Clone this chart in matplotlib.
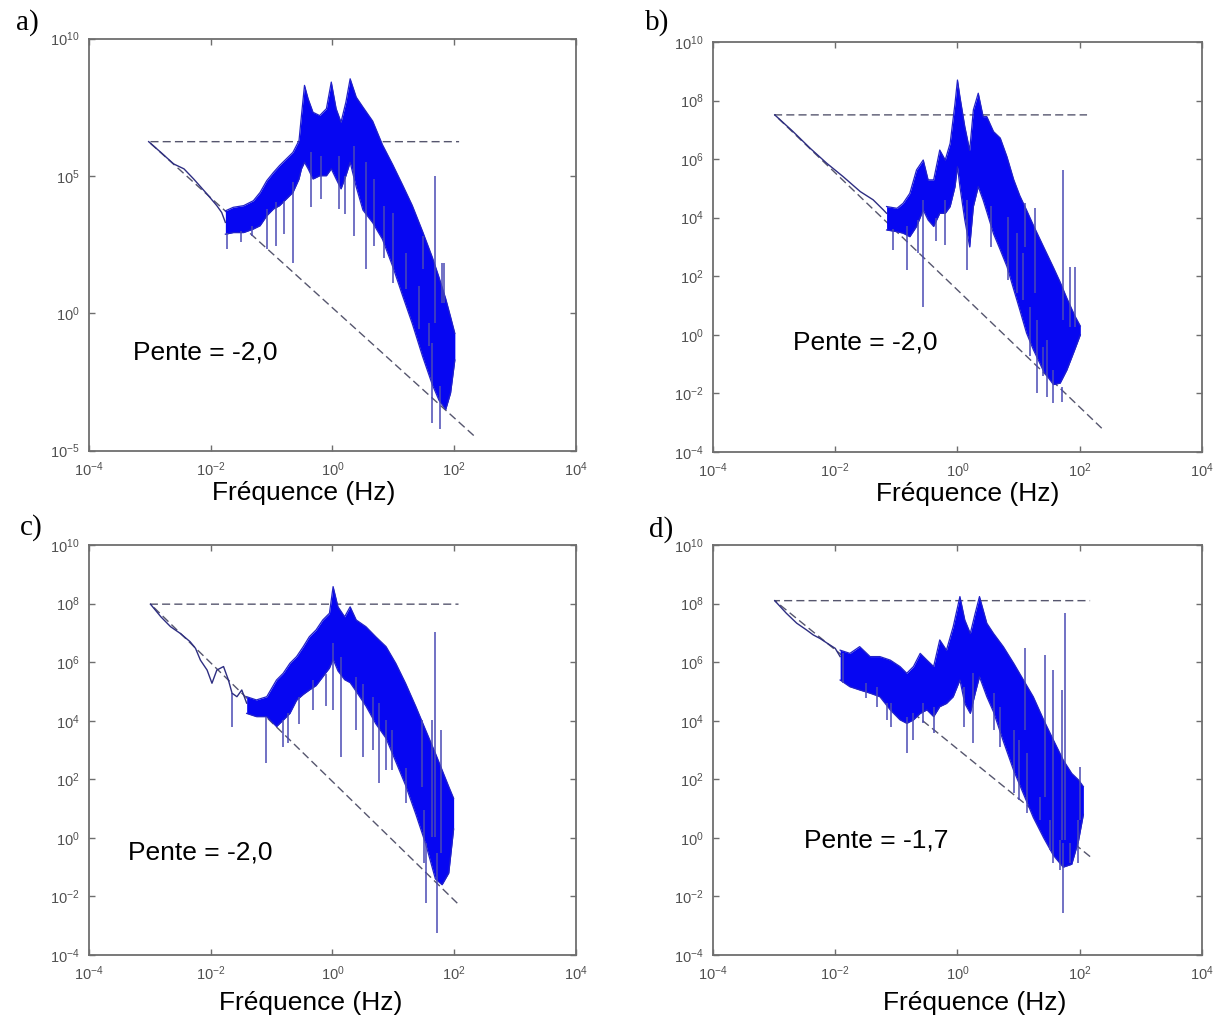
import numpy as np
import matplotlib.pyplot as plt
from matplotlib.ticker import FixedLocator, FuncFormatter, NullLocator

plt.rcParams['font.family'] = ['Liberation Sans', 'DejaVu Sans']

# all values are log10(frequency in Hz) / log10(power)

# ---------- a) ----------
a_low_logf = [-3.02, -2.82, -2.61, -2.44, -2.28, -2.06, -1.90, -1.82, -1.76]
a_low_logp = [6.25, 5.86, 5.44, 5.26, 4.89, 4.34, 3.92, 3.67, 3.31]
a_band_logf = [-1.76, -1.63, -1.46, -1.30, -1.19, -1.08, -0.97, -0.87, -0.76, -0.65, -0.55, -0.51,
               -0.46, -0.40, -0.32, -0.21, -0.10, -0.02, 0.06, 0.14, 0.22, 0.29, 0.39, 0.50, 0.66,
               0.82, 0.99, 1.15, 1.31, 1.48, 1.64, 1.75, 1.86, 1.94, 2.01]
a_band_hi = [3.73, 3.86, 3.92, 4.10, 4.40, 4.83, 5.13, 5.38, 5.62, 5.86, 6.29, 7.20, 8.30, 7.81,
             7.32, 7.20, 7.45, 8.42, 7.45, 6.96, 7.69, 8.54, 7.87, 7.51, 7.00, 6.14, 5.41, 4.68,
             3.93, 2.98, 2.04, 1.31, 0.53, -0.13, -0.73]
a_band_lo = [2.88, 2.94, 2.94, 3.07, 3.19, 3.55, 3.80, 3.92, 4.16, 4.40, 4.89, 5.26, 5.50, 5.26,
             4.89, 5.01, 5.01, 5.26, 4.89, 4.53, 5.01, 5.50, 4.60, 3.76, 3.30, 2.70, 1.70, 0.65,
             -0.37, -1.57, -2.60, -3.17, -3.50, -2.90, -1.70]
a_spk_logf = [-1.74, -1.33, -1.08, -0.92, -0.65, -0.35, -0.19, 0.11, 0.36, 0.55, 0.69, 0.99,
              1.42, 1.58, 1.77, 1.64, 1.68, 1.80, 1.84, 1.48, -1.50, -0.80, 0.20, 0.85, 1.20]
a_spk_lo = [2.34, 2.82, 2.34, 2.46, 1.85, 3.86, 4.16, 3.80, 2.82, 1.61, 2.46, 1.12,
            -0.58, -1.19, -4.23, -3.99, -0.34, 0.39, 0.39, 1.61, 2.60, 2.90, 3.60, 2.00, 0.90]
a_spk_hi = [2.94, 3.19, 3.80, 4.04, 4.77, 5.86, 5.74, 5.74, 6.11, 5.50, 4.89, 3.67,
            1.00, -0.34, -2.65, -1.07, 5.01, 1.85, 1.85, 2.82, 3.00, 4.10, 5.00, 3.90, 2.20]
a_ref_logf = [2.32, -3.02, 2.08]
a_ref_logp = [-4.45, 6.25, 6.25]

# ---------- b) ----------
b_low_logf = [-2.99, -2.69, -2.41, -2.14, -1.87, -1.59, -1.38, -1.21, -1.16]
b_low_logp = [7.51, 6.94, 6.37, 5.86, 5.40, 4.89, 4.61, 4.26, 4.15]
b_band_logf = [-1.16, -0.99, -0.89, -0.78, -0.67, -0.56, -0.48, -0.39, -0.29, -0.20, -0.12, -0.04,
               0.00, 0.04, 0.12, 0.20, 0.26, 0.34, 0.42, 0.48, 0.59, 0.70, 0.81, 0.92, 1.02, 1.13,
               1.24, 1.41, 1.57, 1.68, 1.79, 1.92, 2.01]
b_band_hi = [4.38, 4.32, 4.49, 4.83, 5.63, 5.97, 5.29, 5.29, 6.31, 5.97, 6.54, 7.91, 8.70, 8.13,
             7.11, 6.30, 7.68, 8.25, 7.45, 7.45, 6.94, 6.72, 6.08, 5.30, 4.75, 4.26, 3.75, 3.00,
             2.30, 1.80, 1.25, 0.65, 0.30]
b_band_lo = [3.58, 3.52, 3.47, 3.35, 3.70, 4.26, 3.92, 3.70, 4.15, 4.15, 4.38, 5.06, 5.74, 5.06,
             3.92, 3.00, 4.38, 5.06, 4.60, 4.20, 3.45, 2.90, 2.33, 1.55, 0.85, 0.06, -0.50, -1.25,
             -1.70, -1.65, -1.20, -0.50, 0.00]
b_spk_logf = [-0.83, -0.64, -0.56, -0.20, 0.15, 0.83, 0.97, 1.08, 1.19, 1.30, 1.46, 1.57, 1.71,
              1.72, 1.11, 1.27, 1.84, 1.92, -1.05, -0.35, 0.55, 1.40]
b_spk_lo = [2.21, 2.78, 0.96, 3.07, 2.21, 1.87, 1.42, 1.19, -0.74, -2.00, -2.11, -2.34, -2.28,
            0.51, 3.01, 1.42, 0.28, 0.28, 2.90, 3.20, 3.00, -1.40]
b_spk_hi = [3.70, 3.92, 4.61, 4.61, 4.61, 4.04, 3.47, 2.78, 0.96, 0.50, -0.17, -1.20, -1.77,
            5.63, 4.49, 4.32, 2.33, 2.33, 3.60, 4.00, 4.40, -0.40]
b_ref_logf = [2.36, -2.99, 2.12]
b_ref_logp = [-3.19, 7.51, 7.51]

# ---------- c) ----------
c_low_logf = [-2.99, -2.82, -2.66, -2.50, -2.34, -2.25, -2.17, -2.06, -1.98, -1.90, -1.79, -1.71,
              -1.65, -1.57, -1.49, -1.41]
c_low_logp = [7.98, 7.55, 7.21, 6.98, 6.70, 6.47, 6.07, 5.73, 5.28, 5.73, 5.85, 5.39,
              4.94, 4.82, 5.05, 4.60]
c_band_logf = [-1.41, -1.25, -1.08, -0.92, -0.81, -0.70, -0.59, -0.48, -0.38, -0.27, -0.16, -0.05,
               0.01, 0.09, 0.20, 0.29, 0.39, 0.55, 0.71, 0.88, 1.04, 1.20, 1.37, 1.53, 1.69, 1.80,
               1.91, 1.99]
c_band_hi = [4.82, 4.71, 4.82, 5.39, 5.62, 5.96, 6.19, 6.53, 6.87, 7.10, 7.44, 7.67, 8.58, 7.89,
             7.55, 7.89, 7.44, 7.21, 6.87, 6.53, 5.96, 5.28, 4.48, 3.68, 2.89, 2.32, 1.75, 1.35]
c_band_lo = [4.25, 4.14, 4.14, 3.80, 4.02, 4.25, 4.70, 4.90, 5.05, 5.20, 5.50, 5.80, 6.10, 5.70,
             5.40, 5.30, 5.00, 4.50, 3.90, 3.40, 2.60, 1.80, 0.80, -0.20, -1.40, -1.60, -1.20, 0.30]
c_spk_logf = [-1.65, -1.09, -0.81, -0.73, -0.32, 0.01, 0.14, 0.39, 0.50, 0.66, 0.77, 0.88, 0.98,
              1.50, 1.53, 1.72, 1.68, 1.63, 1.79, 1.47, -0.55, -0.10, 1.20]
c_spk_lo = [3.80, 2.55, 3.11, 3.23, 4.37, 4.37, 2.77, 3.68, 2.77, 3.00, 1.86, 2.32, 2.32,
            -0.87, -2.23, -3.26, 0.04, 0.04, -0.53, 1.75, 3.90, 4.50, 1.20]
c_spk_hi = [4.94, 4.14, 4.02, 4.25, 5.39, 6.64, 6.19, 5.50, 5.27, 4.82, 4.59, 4.02, 3.68,
            0.95, -0.19, -0.53, 7.04, 4.02, 3.68, 4.02, 4.80, 5.60, 2.40]
c_ref_logf = [2.05, -2.99, 2.07]
c_ref_logp = [-2.23, 7.98, 7.98]

# ---------- d) ----------
d_low_logf = [-2.99, -2.80, -2.63, -2.47, -2.36, -2.25, -2.17, -2.09, -2.00, -1.92]
d_low_logp = [8.10, 7.67, 7.33, 7.10, 6.93, 6.81, 6.70, 6.59, 6.47, 6.19]
d_band_logf = [-1.92, -1.76, -1.60, -1.43, -1.27, -1.10, -0.94, -0.83, -0.72, -0.61, -0.50, -0.39,
               -0.29, -0.18, -0.07, 0.04, 0.12, 0.21, 0.29, 0.36, 0.48, 0.59, 0.75, 0.92, 1.08,
               1.24, 1.41, 1.57, 1.73, 1.87, 1.98, 2.06]
d_band_hi = [6.41, 6.30, 6.53, 6.19, 6.19, 6.07, 5.85, 5.62, 5.85, 6.30, 6.07, 5.85, 6.76, 6.41,
             7.21, 8.24, 7.44, 6.98, 7.67, 8.24, 7.33, 6.98, 6.53, 5.96, 5.39, 4.82, 4.03, 3.34,
             2.66, 2.20, 1.98, 1.75]
d_band_lo = [5.39, 5.16, 5.05, 4.94, 4.82, 4.37, 4.03, 3.91, 4.03, 4.25, 4.37, 4.14, 4.48, 4.59,
             4.82, 5.39, 4.59, 4.25, 4.94, 5.50, 4.82, 4.30, 3.30, 2.30, 1.50, 0.70, 0.00, -0.60,
             -1.00, -0.90, -0.10, 0.80]
d_spk_logf = [-1.87, -1.49, -1.32, -1.16, -1.08, -0.83, -0.72, -0.56, -0.39, 0.10, 0.26, 0.59,
              0.70, 0.92, 1.00, 1.13, 1.35, 1.51, 1.57, 1.68, 1.73, 1.84, 1.98, 1.76, 1.11, 1.43,
              1.56, 1.71, 2.01]
d_spk_lo = [5.28, 4.77, 4.48, 4.03, 3.80, 2.89, 3.34, 3.91, 3.57, 3.80, 3.23, 3.68,
            3.11, 1.52, 1.30, 0.84, 0.61, -0.41, -0.87, -1.10, -2.58, -0.87, -0.87, -0.07, 3.68,
            1.41, 0.61, -0.07, 0.61]
d_spk_hi = [6.30, 5.28, 5.16, 4.59, 4.59, 4.14, 4.25, 4.59, 4.48, 5.16, 5.62, 4.94,
            4.48, 3.68, 3.34, 2.89, 1.41, 0.61, 0.61, -0.07, -0.18, -0.18, 0.61, 7.67, 6.47,
            6.24, 5.73, 5.05, 2.43]
d_ref_logf = [2.17, -2.99, 2.17]
d_ref_logp = [-0.64, 8.10, 8.10]

panel_letters = ['a)', 'b)', 'c)', 'd)']
pente_texts = ['Pente = -2,0', 'Pente = -2,0', 'Pente = -2,0', 'Pente = -1,7']
y_limits = [(-5, 10), (-4, 10), (-4, 10), (-4, 10)]
y_step = [5, 2, 2, 2]
x_ticks = [-4, -2, 0, 2, 4]

BAND = '#0606f2'
EDGE = '#2222c8'
SPIKE = '#4a4ab4'
LOWLINE = '#2e2e82'
DASH = '#56566e'
GREY = '#6e6e6e'


def p10(v):
    return 10.0 ** np.asarray(v, dtype=float)


def fmt(v, pos):
    return r'$\mathregular{10^{%d}}$' % int(round(np.log10(v)))


fig = plt.figure(figsize=(12.31, 10.26), dpi=100)
boxes = [
    [0.0723, 0.5608, 0.3956, 0.4015],
    [0.5792, 0.5595, 0.3972, 0.3996],
    [0.0723, 0.0692, 0.3956, 0.3996],
    [0.5792, 0.0692, 0.3972, 0.3996],
]
panels = [
    (a_low_logf, a_low_logp, a_band_logf, a_band_hi, a_band_lo, a_spk_logf, a_spk_lo, a_spk_hi, a_ref_logf, a_ref_logp),
    (b_low_logf, b_low_logp, b_band_logf, b_band_hi, b_band_lo, b_spk_logf, b_spk_lo, b_spk_hi, b_ref_logf, b_ref_logp),
    (c_low_logf, c_low_logp, c_band_logf, c_band_hi, c_band_lo, c_spk_logf, c_spk_lo, c_spk_hi, c_ref_logf, c_ref_logp),
    (d_low_logf, d_low_logp, d_band_logf, d_band_hi, d_band_lo, d_spk_logf, d_spk_lo, d_spk_hi, d_ref_logf, d_ref_logp),
]
pente_pos = [(0.090, 0.239), (0.164, 0.266), (0.080, 0.251), (0.186, 0.280)]
xlabel_pos = [(0.44, -0.103), (0.52, -0.103), (0.456, -0.117), (0.536, -0.117)]
letter_pos = [(0.022, 0.978), (0.534, 0.978), (0.025, 0.486), (0.537, 0.484)]

for i, box in enumerate(boxes):
    ax = fig.add_axes(box)
    lf, lp, bf, bh, bl, sf, slo, shi, rf, rp = panels[i]
    ax.set_xscale('log')
    ax.set_yscale('log')

    # reference slope line (dashed)
    ax.plot(p10(rf), p10(rp), color=DASH, lw=1.0, dashes=(5.8, 3.0), zorder=1)

    # low frequency part of the spectrum
    ax.plot(p10(lf), p10(lp), color=LOWLINE, lw=1.0, zorder=3)
    # dense part
    ax.fill_between(p10(bf), p10(bl), p10(bh), color=BAND, lw=0, zorder=2)
    ax.plot(p10(bf), p10(bh), color=EDGE, lw=0.9, zorder=2)
    ax.plot(p10(bf), p10(bl), color=EDGE, lw=0.9, zorder=2)
    ax.vlines(p10(sf), p10(slo), p10(shi), color=SPIKE, lw=1.1, zorder=2)

    ymin, ymax = y_limits[i]
    ax.set_xlim(1e-4, 1e4)
    ax.set_ylim(10.0 ** ymin, 10.0 ** ymax)
    ax.xaxis.set_major_locator(FixedLocator(p10(x_ticks)))
    ax.yaxis.set_major_locator(FixedLocator(p10(np.arange(ymin, ymax + 1, y_step[i]))))
    ax.xaxis.set_minor_locator(NullLocator())
    ax.yaxis.set_minor_locator(NullLocator())
    ax.xaxis.set_major_formatter(FuncFormatter(fmt))
    ax.yaxis.set_major_formatter(FuncFormatter(fmt))
    ax.tick_params(which='both', direction='in', top=True, right=True, length=4,
                   width=1.0, color=GREY, labelcolor='#505050', labelsize=10.5, pad=7)
    for s in ax.spines.values():
        s.set_color(GREY)
        s.set_linewidth(1.3)

    ax.set_xlabel('Fréquence (Hz)', fontsize=19, va='center')
    ax.xaxis.set_label_coords(*xlabel_pos[i])
    ax.text(pente_pos[i][0], pente_pos[i][1], pente_texts[i], transform=ax.transAxes,
            fontsize=19, ha='left', va='center')
    fig.text(letter_pos[i][0], letter_pos[i][1], panel_letters[i], fontsize=21,
             family=['Liberation Serif', 'DejaVu Serif'], ha='center', va='center')

fig.savefig('out.png', dpi=100)
